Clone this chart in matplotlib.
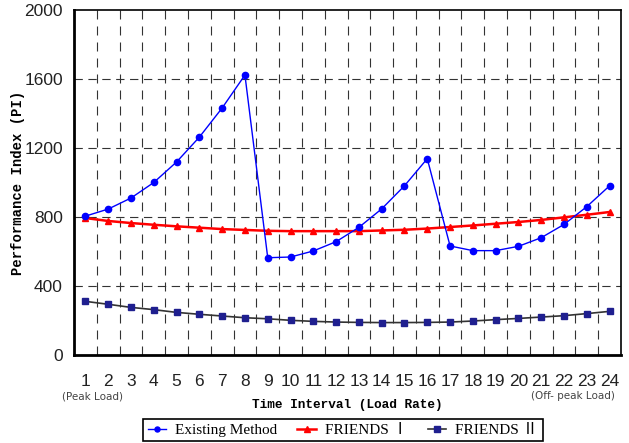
import matplotlib
matplotlib.use("Agg")
import matplotlib.pyplot as plt
import numpy as np

intervals = list(range(1, 25))
existing = [805, 846, 910, 1000, 1119, 1263, 1432, 1623, 564, 568, 603, 657,
            740, 847, 981, 1138, 632, 605, 605, 630, 680, 757, 860, 981]
friends1 = [794, 777, 765, 755, 746, 738, 730, 725, 720, 718, 718, 718,
            718, 722, 726, 733, 742, 751, 761, 771, 783, 798, 813, 829]
friends2 = [311, 294, 276, 263, 247, 236, 226, 216, 210, 201, 195, 191,
            189, 188, 188, 189, 191, 197, 205, 212, 220, 228, 240, 253]
yticks = [0, 400, 800, 1200, 1600, 2000]

W, H = 629, 443
fig = plt.figure(figsize=(W/100, H/100), dpi=100)
ax = fig.add_axes([74/W, 1-355/H, (621-74)/W, (355-10)/H])

ax.plot(intervals, existing, color='#0000FF', lw=1.0, marker='o', ms=4.5,
        label='Existing Method', zorder=4)
ax.plot(intervals, friends1, color='#FF0000', lw=1.8, marker='^', ms=5,
        label='FRIENDS Ⅰ', zorder=3)
ax.plot(intervals, friends2, color='#333333', lw=1.2, marker='s', ms=5,
        mfc='#1F1F8F', mec='#1F1F8F', label='FRIENDS Ⅱ', zorder=3)

tick_font = ['Liberation Sans Narrow', 'Liberation Sans']
ax.set_xlim(0.5, 24.5)
ax.set_ylim(0, 2000)
ax.set_xticks(intervals)
ax.set_xticklabels([str(i) for i in intervals], fontsize=12.5,
                   fontfamily=tick_font, color='#222222')
ax.set_yticks(yticks)
ax.set_yticklabels([str(v) for v in yticks], fontsize=12.5,
                   fontfamily=tick_font, color='#222222')
ax.tick_params(axis='both', length=0, pad=14)
ax.tick_params(axis='y', pad=8)

for xv in np.arange(1.5, 24.5, 1.0):
    ax.axvline(xv, color='#333333', lw=0.8, ls=(0, (8.1, 6.3)), zorder=1)
for yv in [400, 800, 1200, 1600]:
    ax.axhline(yv, color='#333333', lw=0.8, ls=(0, (7.5, 5.0)), zorder=1)

for s in ['left', 'bottom']:
    ax.spines[s].set_linewidth(2.0)
for s in ['top', 'right']:
    ax.spines[s].set_linewidth(1.2)

fig.text(18/W, 1-183/H, 'Performance Index (PI)', rotation=90,
         ha='center', va='center', fontfamily='Liberation Mono',
         fontweight='bold', fontsize=10)
fig.text(347/W, 1-405/H, 'Time Interval (Load Rate)', ha='center',
         va='center', fontfamily='Liberation Mono', fontweight='bold',
         fontsize=9.2)

ax.text(1.3, -0.119, '(Peak Load)', transform=ax.get_xaxis_transform(),
        ha='center', va='center', fontsize=7.5, color='#444444',
        fontfamily='DejaVu Sans')
ax.text(24.24, -0.119, '(Off- peak Load)', transform=ax.get_xaxis_transform(),
        ha='right', va='center', fontsize=7.5, color='#444444',
        fontfamily='DejaVu Sans')

leg = ax.legend(loc='center', bbox_to_anchor=(343/W, 1-430/H),
                bbox_transform=fig.transFigure, ncol=3, frameon=True,
                fancybox=False, edgecolor='black', framealpha=1,
                prop={'family': ['Liberation Serif', 'Noto Sans CJK SC'], 'size': 11},
                handlelength=1.2, columnspacing=1.3, borderpad=0.3,
                handletextpad=0.6, markerscale=0.8, borderaxespad=0)
leg.get_frame().set_linewidth(1.2)

fig.savefig('out.png', dpi=100)
